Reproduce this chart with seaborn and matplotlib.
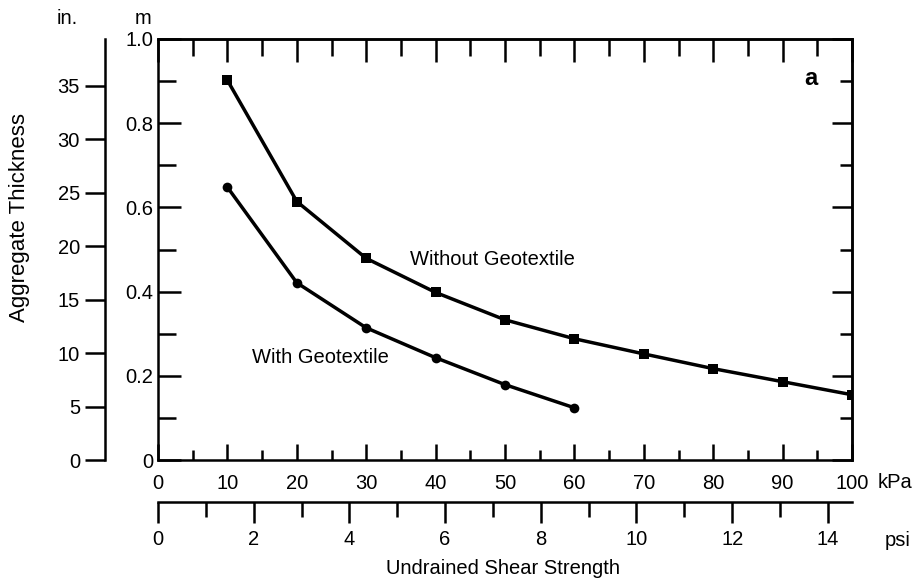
import matplotlib
matplotlib.use("Agg")
import matplotlib.pyplot as plt
import seaborn as sns
import pandas as pd
import numpy as np

# ---- data ----
kpa_without = [10, 20, 30, 40, 50, 60, 70, 80, 90, 100]
thick_without = [0.902, 0.614, 0.479, 0.398, 0.333, 0.288, 0.252, 0.217, 0.186, 0.155]
kpa_with = [10, 20, 30, 40, 50, 60]
thick_with = [0.648, 0.421, 0.314, 0.243, 0.179, 0.124]

kpa_ticks = [0, 10, 20, 30, 40, 50, 60, 70, 80, 90, 100]
m_ticks = [0, 0.2, 0.4, 0.6, 0.8, 1.0]
m_tick_labels = ["0", "0.2", "0.4", "0.6", "0.8", "1.0"]
in_ticks = [0, 5, 10, 15, 20, 25, 30, 35]
psi_ticks = [0, 2, 4, 6, 8, 10, 12, 14]

df_without = pd.DataFrame({"kPa": kpa_without, "m": thick_without})
df_with = pd.DataFrame({"kPa": kpa_with, "m": thick_with})

sns.set_theme(style="ticks")
plt.rcParams["font.family"] = ["Liberation Sans", "DejaVu Sans"]
plt.rcParams["text.color"] = "black"
plt.rcParams["axes.labelcolor"] = "black"
plt.rcParams["xtick.color"] = "black"
plt.rcParams["ytick.color"] = "black"
plt.rcParams["axes.edgecolor"] = "black"

W, H = 921, 582
fig = plt.figure(figsize=(W / 100, H / 100), dpi=100)
L, R, T, B = 158, 852, 39, 460
ax = fig.add_axes([L / W, 1 - B / H, (R - L) / W, (B - T) / H])

LW = 1.8
sns.lineplot(data=df_without, x="kPa", y="m", ax=ax, color="black", lw=2.5,
             marker="s", markersize=7.5, markeredgewidth=0, sort=True)
sns.lineplot(data=df_with, x="kPa", y="m", ax=ax, color="black", lw=2.5,
             marker="o", markersize=7, markeredgewidth=0, sort=True)

ax.set_xlim(0, 100)
ax.set_ylim(0, 1.0)
ax.set_xlabel("")
ax.set_ylabel("")
for s in ax.spines.values():
    s.set_visible(True)
    s.set_linewidth(LW)
    s.set_color("black")

FS = 14.5
ax.set_xticks(kpa_ticks)
ax.set_xticks(np.arange(5, 100, 10), minor=True)
ax.set_xticklabels([str(t) for t in kpa_ticks])
ax.set_yticks(m_ticks)
ax.set_yticks([0.1, 0.3, 0.5, 0.7, 0.9], minor=True)
ax.set_yticklabels(m_tick_labels)
ax.tick_params(axis="x", which="major", direction="in", length=11.5, width=LW,
               pad=10, labelsize=FS, colors="black", top=False, bottom=True)
ax.tick_params(axis="x", which="minor", direction="in", length=7, width=LW,
               top=False, bottom=True, colors="black")
ax.tick_params(axis="y", which="major", direction="in", length=16.5, width=LW,
               pad=3.6, labelsize=FS, colors="black", left=True, right=False)
ax.tick_params(axis="y", which="minor", direction="in", length=13, width=LW,
               left=True, right=False, colors="black")

# top ticks
top = ax.secondary_xaxis("top")
top.set_xticks(kpa_ticks)
top.set_xticks(np.arange(5, 100, 10), minor=True)
top.tick_params(which="major", direction="in", length=16.5, width=LW, labeltop=False)
top.tick_params(which="minor", direction="in", length=12, width=LW)
top.spines["top"].set_linewidth(LW)

# right ticks
right = ax.secondary_yaxis("right")
right.set_yticks(m_ticks)
right.set_yticks([0.1, 0.3, 0.5, 0.7, 0.9], minor=True)
right.tick_params(which="major", direction="in", length=14.5, width=LW, labelright=False)
right.tick_params(which="minor", direction="in", length=8.5, width=LW)
right.spines["right"].set_linewidth(LW)

# inch axis
in_loc = (105 - L) / (R - L)
inax = ax.secondary_yaxis(in_loc, functions=(lambda m: m / 0.0254, lambda i: i * 0.0254))
inax.set_yticks(in_ticks)
inax.set_yticklabels([str(t) for t in in_ticks])
inax.tick_params(direction="out", length=14.4, width=LW, pad=3.6, labelsize=FS, colors="black")
inax.spines["left"].set_linewidth(LW)

# psi axis
psi_loc = -(502 - B) / (B - T)
psiax = ax.secondary_xaxis(psi_loc, functions=(lambda k: k * 0.145038, lambda p: p / 0.145038))
psiax.set_xticks(psi_ticks)
psiax.set_xticks([1, 3, 5, 7, 9, 11, 13], minor=True)
psiax.set_xticklabels([str(t) for t in psi_ticks])
psiax.tick_params(which="major", direction="out", length=15, width=LW, pad=5.5,
                  labelsize=FS, colors="black")
psiax.tick_params(which="minor", direction="out", length=11, width=LW)
psiax.spines["bottom"].set_linewidth(LW)

# annotations
ax.text(36.3, 0.476, "Without Geotextile", fontsize=FS, ha="left", va="center")
ax.text(13.5, 0.243, "With Geotextile", fontsize=FS, ha="left", va="center")
ax.text(94.1, 0.905, "a", fontsize=17, fontweight="bold", ha="center", va="center")


def ftext(x, y, s, **kw):
    fig.text(x / W, 1 - y / H, s, **kw)


ftext(67, 18, "in.", fontsize=FS, ha="center", va="center")
ftext(143, 18, "m", fontsize=FS, ha="center", va="center")
ftext(895, 482, "kPa", fontsize=FS, ha="center", va="center")
ftext(898, 540, "psi", fontsize=FS, ha="center", va="center")
ftext(20, 218, "Aggregate Thickness", fontsize=16, rotation=90, ha="center", va="center")
ftext(503, 568, "Undrained Shear Strength", fontsize=FS, ha="center", va="center")

fig.savefig("out.png", dpi=100)
